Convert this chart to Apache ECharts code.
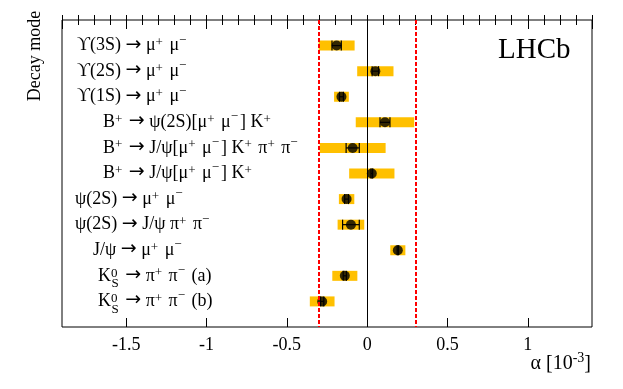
<!DOCTYPE html>
<html>
<head>
<meta charset="utf-8">
<script src="https://cdn.jsdelivr.net/npm/echarts@6/dist/echarts.min.js"></script>
<style>
html,body{margin:0;padding:0;background:#fff;}
#chart{width:623px;height:389px;}
</style>
</head>
<body>
<div id="chart"></div>
<script>
// ---- data ----
const categories = [
  'ϒ(3S) → μ^{+} μ^{−}',
  'ϒ(2S) → μ^{+} μ^{−}',
  'ϒ(1S) → μ^{+} μ^{−}',
  'B^{+} → ψ(2S)[μ^{+} μ^{−}] K^{+}',
  'B^{+} → J/ψ[μ^{+} μ^{−}] K^{+} π^{+} π^{−}',
  'B^{+} → J/ψ[μ^{+} μ^{−}] K^{+}',
  'ψ(2S) → μ^{+} μ^{−}',
  'ψ(2S) → J/ψ π^{+} π^{−}',
  'J/ψ → μ^{+} μ^{−}',
  'K#{S}{0} → π^{+} π^{−} (a)',
  'K#{S}{0} → π^{+} π^{−} (b)'
];
const alphaValues = [-0.190, 0.051, -0.160, 0.111, -0.090, 0.029, -0.128, -0.101, 0.191, -0.139, -0.280];
const totalErrors = [0.112, 0.113, 0.046, 0.182, 0.205, 0.141, 0.048, 0.083, 0.047, 0.078, 0.077];
const statErrors  = [0.029, 0.020, 0.012, 0.031, 0.041, 0.005, 0.012, 0.052, 0.004, 0.010, 0.010];
const limitLines  = [-0.3, 0.3];
const xAxisTitle = 'α [10^{-3}]';
const yAxisTitle = 'Decay mode';
const experiment = 'LHCb';

// ---- layout / style ----
const labelIndent = [2, 2, 2, 28, 28, 28, 0, 0, 18, 23, 23];
const FONT = "'Liberation Serif', 'DejaVu Serif', serif";
const ORANGE = '#ffc000';

const richStyles = {
  n:  {fontFamily: FONT, fontSize: 18, color: '#000'},
  ar: {fontFamily: "'DejaVu Sans', sans-serif", fontSize: 19, color: '#000', padding: [0, 0, 2, 0]},
  sp: {fontFamily: FONT, fontSize: 13, color: '#000', padding: [0, 2, 6, 0]},
  sm: {fontFamily: FONT, fontSize: 13, color: '#000', padding: [0, 2, 11, 0]},
  z:  {fontFamily: FONT, fontSize: 13, color: '#000', padding: [0, 0, 5, 0], width: 0.5},
  sb: {fontFamily: FONT, fontSize: 13, color: '#000', padding: [16, 2, 0, 0]}
};
labelIndent.forEach((w, i) => { richStyles['g' + i] = {width: Math.max(w, 0.5), fontSize: 18, fontFamily: FONT}; });

function toRich(s) {
  let out = '', buf = '', i = 0;
  const flush = () => { if (buf) { out += '{n|' + buf + '}'; buf = ''; } };
  while (i < s.length) {
    const c = s[i];
    if ((c === '^' || c === '_') && s[i + 1] === '{') {
      flush();
      const j = s.indexOf('}', i);
      const t = s.slice(i + 2, j);
      const st = c === '_' ? 'sb' : (/[−-]/.test(t) ? 'sm' : 'sp');
      out += '{' + st + '|' + t + '}';
      i = j + 1;
    } else if (c === '#' && s[i + 1] === '{') {
      flush();
      const j = s.indexOf('}', i);
      const sub = s.slice(i + 2, j);
      const k = s.indexOf('}', j + 1);
      const sup = s.slice(j + 2, k);
      out += '{z|' + sup + '}{sb|' + sub + '}';
      i = k + 1;
    } else if (c === '→') {
      flush();
      out += '{ar|→}';
      i++;
    } else { buf += c; i++; }
  }
  flush();
  return out;
}

const rowData = alphaValues.map((v, i) => [v, totalErrors[i], statErrors[i], i + 1]);

const chart = echarts.init(document.getElementById('chart'), null, {renderer: 'canvas'});

const gridRect = {left: 62, right: 31, top: 20, bottom: 62};

const option = {
  animation: false,
  backgroundColor: '#fff',
  grid: [
    Object.assign({show: true, borderColor: '#000', borderWidth: 1, backgroundColor: 'transparent'}, gridRect),
    Object.assign({show: false}, gridRect)
  ],
  xAxis: [
    { // minor ticks bottom
      type: 'value', gridIndex: 0, position: 'bottom', min: -1.9, max: 1.4, interval: 0.1,
      axisLine: {show: false}, splitLine: {show: false},
      axisTick: {show: true, inside: true, length: 5, lineStyle: {color: '#000', width: 1}},
      axisLabel: {show: false}
    },
    { // minor ticks top
      type: 'value', gridIndex: 0, position: 'top', min: -1.9, max: 1.4, interval: 0.1,
      axisLine: {show: false}, splitLine: {show: false},
      axisTick: {show: true, inside: true, length: 5, lineStyle: {color: '#000', width: 1}},
      axisLabel: {show: false}
    },
    { // major ticks bottom with labels
      type: 'value', gridIndex: 1, position: 'bottom', min: -1.9, max: 1.4,
      axisLine: {show: false}, splitLine: {show: false},
      axisTick: {show: true, inside: true, length: 9, lineStyle: {color: '#000', width: 1}},
      axisLabel: {show: true, showMinLabel: false, showMaxLabel: false, margin: 9,
        fontFamily: FONT, fontSize: 18, color: '#000'}
    },
    { // major ticks top
      type: 'value', gridIndex: 1, position: 'top', min: -1.9, max: 1.4,
      axisLine: {show: false}, splitLine: {show: false},
      axisTick: {show: true, inside: true, length: 9, lineStyle: {color: '#000', width: 1}},
      axisLabel: {show: false}
    }
  ],
  yAxis: [
    {
      type: 'value', gridIndex: 0, min: 0, max: categories.length + 1, interval: 1, inverse: true,
      axisLine: {show: false}, axisTick: {show: false}, splitLine: {show: false},
      axisLabel: {
        show: true, align: 'left', margin: -13,
        formatter: function (v) {
          const idx = Math.round(v) - 1;
          if (idx < 0 || idx >= categories.length) return '';
          const pre = labelIndent[idx] > 0 ? '{g' + idx + '| }' : '';
          return pre + toRich(categories[idx]);
        },
        rich: richStyles
      }
    },
    {type: 'value', gridIndex: 1, show: false, min: 0, max: 1}
  ],
  graphic: [
    {
      type: 'text', x: 35, y: 56, rotation: Math.PI / 2, z: 10,
      style: {text: yAxisTitle, font: '18px ' + FONT, fill: '#000', align: 'center', verticalAlign: 'middle'}
    },
    {
      type: 'text', x: 498, y: 50, z: 10,
      style: {text: experiment, font: '29px ' + FONT, fill: '#000', align: 'left', verticalAlign: 'middle'}
    },
    {
      type: 'text', x: 591, y: 364, z: 10,
      style: {
        text: toRich(xAxisTitle), align: 'right', verticalAlign: 'middle',
        rich: {
          n: {fontFamily: FONT, fontSize: 20, fill: '#000', color: '#000'},
          sm: {fontFamily: FONT, fontSize: 14, fill: '#000', color: '#000', padding: [0, 0, 12, 0]},
          sp: {fontFamily: FONT, fontSize: 14, fill: '#000', color: '#000', padding: [0, 0, 12, 0]}
        }
      }
    }
  ],
  series: [
    { // total uncertainty bands
      type: 'custom', xAxisIndex: 0, yAxisIndex: 0, z: 1,
      data: rowData, encode: {x: 0, y: 3},
      renderItem: function (params, api) {
        const v = api.value(0), e = api.value(1), y = api.value(3);
        const p0 = api.coord([v - e, y]);
        const p1 = api.coord([v + e, y]);
        return {type: 'rect', shape: {x: p0[0], y: p0[1] - 5, width: p1[0] - p0[0], height: 10},
          style: {fill: ORANGE}};
      }
    },
    { // reference lines
      type: 'line', xAxisIndex: 0, yAxisIndex: 0, z: 2, data: [],
      markLine: {
        silent: true, symbol: 'none', animation: false,
        label: {show: false},
        data: limitLines.map(v => ({xAxis: v, lineStyle: {color: '#ff0000', type: [4, 2], width: 2}}))
          .concat([{xAxis: 0, lineStyle: {color: '#000', type: 'solid', width: 1}}])
      }
    },
    { // statistical error bars
      type: 'custom', xAxisIndex: 0, yAxisIndex: 0, z: 3,
      data: rowData, encode: {x: 0, y: 3},
      renderItem: function (params, api) {
        const v = api.value(0), s = api.value(2), y = api.value(3);
        const a = api.coord([v - s, y]);
        const b = api.coord([v + s, y]);
        const ls = {stroke: '#000', lineWidth: 1.2};
        return {type: 'group', children: [
          {type: 'line', shape: {x1: a[0], y1: a[1], x2: b[0], y2: b[1]}, style: ls},
          {type: 'line', shape: {x1: a[0], y1: a[1] - 5, x2: a[0], y2: a[1] + 5}, style: ls},
          {type: 'line', shape: {x1: b[0], y1: b[1] - 5, x2: b[0], y2: b[1] + 5}, style: ls}
        ]};
      }
    },
    { // central values
      type: 'scatter', xAxisIndex: 0, yAxisIndex: 0, z: 4,
      symbol: 'circle', symbolSize: 10,
      itemStyle: {color: '#000'},
      data: alphaValues.map((v, i) => [v, i + 1])
    }
  ]
};
chart.setOption(option);
</script>
</body>
</html>
